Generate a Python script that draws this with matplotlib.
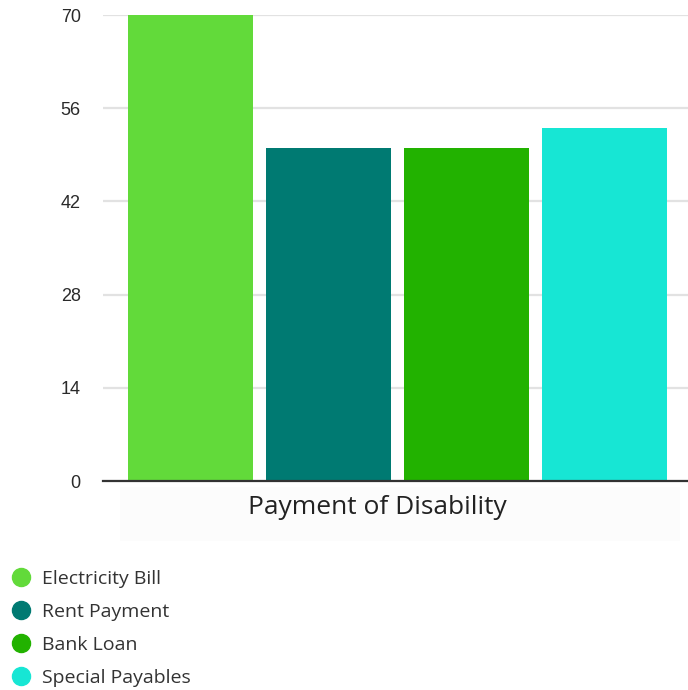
import matplotlib.pyplot as plt
from matplotlib.lines import Line2D
from matplotlib.patches import Rectangle

categories = ["Electricity Bill", "Rent Payment", "Bank Loan", "Special Payables"]
values = [70, 50, 50, 53]
colors = ["#62da3a", "#007a72", "#22b200", "#17e6d4"]
y_ticks = [0, 14, 28, 42, 56, 70]
group_label = "Payment of Disability"

W, H = 688, 690
fig = plt.figure(figsize=(W / 100, H / 100), dpi=100)

# axes box in pixel terms
left, right, top, bottom = 103, 688, 15, 481
ax = fig.add_axes([left / W, 1 - bottom / H, (right - left) / W, (bottom - top) / H])

x = list(range(len(categories)))
ax.bar(x, values, width=125 / 138, color=colors, zorder=3)

ax.set_xlim(-0.634, 3.605)
ax.set_ylim(0, 70)
ax.set_yticks(y_ticks)
ax.set_yticklabels([str(t) for t in y_ticks], fontfamily="Liberation Sans",
                   fontsize=13, color="#2a2a2a")
ax.tick_params(axis="y", length=0, pad=16)
ax.set_xticks([])
ax.grid(axis="y", color="#e2e2e2", linewidth=1.6, zorder=0)
for s in ["top", "right", "left"]:
    ax.spines[s].set_visible(False)
ax.spines["bottom"].set_color("#333333")
ax.spines["bottom"].set_linewidth(1.6)
ax.spines["bottom"].set_zorder(4)

# faint panel behind the category label
fig.patches.append(Rectangle((120 / W, 1 - 541 / H), 560 / W, 54 / H,
                             transform=fig.transFigure, facecolor="#fcfcfc",
                             edgecolor="none", zorder=0))
fig.text(377 / W, 1 - 507 / H, group_label, ha="center", va="center",
         fontfamily="Open Sans", fontsize=19, color="#222222")

handles = [Line2D([], [], linestyle="none", marker="o", markersize=13,
                  markerfacecolor=c, markeredgecolor=c) for c in colors]
fig.legend(handles, categories, loc="upper left",
           bbox_to_anchor=(-8 / W, 1 - 552 / H), frameon=False,
           handletextpad=0.45, handlelength=1.2, labelspacing=0.78,
           prop={"family": "Open Sans", "size": 14}, labelcolor="#333333")

fig.savefig("out.png", dpi=100)
